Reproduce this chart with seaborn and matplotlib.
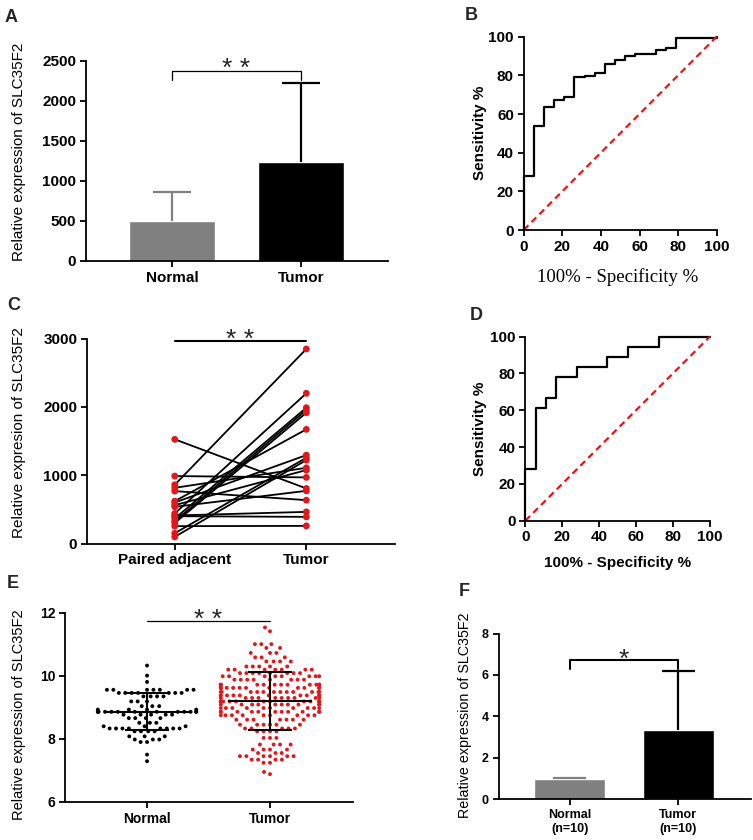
import numpy as np
import pandas as pd
import matplotlib
matplotlib.use("Agg")
import matplotlib.pyplot as plt
import seaborn as sns

# ---------------- data ----------------
# A: SLC35F2 expression, mean with SD (upper bar end)
a_groups = ["Normal", "Tumor"]
a_mean = [495, 1235]
a_sd_top = [862, 2225]

# B: ROC curve (100% - specificity, sensitivity)
b_fpr = [0, 0, 5.26, 10.53, 15.79, 21.05, 26.32, 31.58, 36.84, 42.11, 47.37,
         52.63, 57.89, 68.42, 73.68, 78.95, 100]
b_tpr = [0, 28, 54, 63.5, 67.5, 69, 79, 79.5, 81, 86, 88,
         90, 91, 93, 94, 99.5, 100]

# C: paired samples (adjacent vs tumor)
c_adjacent = [1525, 860, 987, 815, 767, 600, 561, 537, 440, 400, 366, 327,
              254, 97, 410, 300, 620, 150]
c_tumor = [806, 2848, 968, 1108, 635, 1294, 1075, 771, 2199, 390, 1988, 1954,
           258, 1221, 463, 1915, 1671, 1255]
c_ticks = ["Paired adjacent", "Tumor"]

# D: ROC curve
d_fpr = [0, 0, 5.56, 11.11, 16.67, 27.78, 44.44, 55.56, 72.22, 100]
d_tpr = [0, 27.8, 61.1, 66.7, 77.8, 83.3, 88.9, 94.4, 100, 100]

diag = [0, 100]

# E: scatter dot plot, values read row by row (value level, number of dots)
e_normal_levels = [10.33, 10.01, 9.81, 9.56, 9.46, 9.35, 9.19, 9.04, 8.93, 8.86, 8.77,
                   8.66, 8.51, 8.40, 8.33, 8.24, 8.08, 7.98, 7.90, 7.50, 7.29]
e_normal_counts = [1, 1, 1, 7, 7, 4, 3, 3, 4, 13, 5,
                   4, 3, 3, 8, 4, 3, 3, 2, 1, 1]
e_tumor_levels = [11.54, 11.42, 11.01, 10.89, 10.73, 10.59, 10.46, 10.30, 10.20, 10.09,
                  9.99, 9.88, 9.72, 9.62, 9.49, 9.38, 9.30, 9.19, 9.09, 8.98, 8.86,
                  8.75, 8.61, 8.45, 8.33, 8.24, 8.03, 7.82, 7.66, 7.55, 7.45, 7.34,
                  7.24, 6.95, 6.88]
e_tumor_counts = [1, 1, 3, 2, 3, 3, 4, 5, 7, 8,
                  8, 8, 14, 12, 12, 10, 10, 14, 10, 10, 11,
                  9, 7, 6, 5, 4, 3, 4, 4, 3, 6, 4,
                  2, 1, 1]
e_mean = [8.85, 9.20]
e_sd_low = [8.27, 8.28]
e_sd_high = [9.45, 10.12]

# F: qPCR, mean with SD
f_groups = ["Normal\n(n=10)", "Tumor\n(n=10)"]
f_mean = [1.0, 3.35]
f_sd_top = [1.05, 6.18]

RED = "#e3161c"
GRAY = "#808080"

# ---------------- figure ----------------
sns.set_theme(style="ticks")
plt.rcParams["font.family"] = ["Liberation Sans", "DejaVu Sans"]

W, H = 753, 840
fig = plt.figure(figsize=(W / 100, H / 100), dpi=100)


def add_ax(left, top, right, bottom):
    # pixel box (top-left origin) -> figure fraction
    return fig.add_axes([left / W, 1 - bottom / H, (right - left) / W, (bottom - top) / H])


def style(ax, size=11, lw=1.3):
    sns.despine(ax=ax)
    for s in ["left", "bottom"]:
        ax.spines[s].set_linewidth(lw)
        ax.spines[s].set_color("black")
    ax.tick_params(direction="out", length=4, width=lw, color="black",
                   labelsize=size, pad=3, labelcolor="black")
    for lab in ax.get_xticklabels() + ax.get_yticklabels():
        lab.set_fontweight("bold")


def ylab(ax, text, x, y, size=11, weight="normal"):
    ax.set_ylabel(text, fontsize=size, fontweight=weight, color="black")
    ax.yaxis.set_label_coords(x, y)
    ax.yaxis.label.set_verticalalignment("center")


def stars(ax, x, y, text, size=19):
    ax.annotate(text, xy=(x, y), xytext=(0, -6), textcoords="offset points",
                ha="center", va="center", fontsize=size, annotation_clip=False)


def sd_bars(ax, means, tops, colors, cap):
    # upper-only SD whiskers, GraphPad style
    for i, (m, t, c) in enumerate(zip(means, tops, colors)):
        ax.vlines(i, m, t, color=c, lw=1.6, zorder=3)
        ax.hlines(t, i - cap, i + cap, color=c, lw=1.6, zorder=3)


def letter(x, y, text):
    fig.text(x / W, 1 - y / H, text, fontsize=13, fontweight="bold", va="center", ha="left")


# ---- A ----
ax = add_ax(86, 61, 388, 261)
sns.barplot(x=a_groups, y=a_mean, hue=a_groups, palette=[GRAY, "black"], width=0.667,
            saturation=1, legend=False, errorbar=None, ax=ax)
sd_bars(ax, a_mean, a_sd_top, [GRAY, "black"], 0.15)
ax.set_ylim(0, 2500)
ax.set_yticks([0, 500, 1000, 1500, 2000, 2500])
ax.set_xlim(-0.667, 1.674)
ax.set_xlabel("")
ax.plot([0, 0, 1, 1], [2265, 2380, 2380, 2265], color="black", lw=0.9, clip_on=False)
stars(ax, 0.5, 2500, "* *")
ylab(ax, "Relative expression of SLC35F2", -0.222, 0.545)
style(ax)
letter(5, 17, "A")

# ---- B ----
ax = add_ax(523.7, 36.7, 716.7, 230)
roc_b = pd.DataFrame({"fpr": b_fpr, "tpr": b_tpr})
sns.lineplot(data=roc_b, x="fpr", y="tpr", estimator=None, sort=False, drawstyle="steps-post",
             color="black", lw=1.6, clip_on=False, ax=ax)
ax.plot(diag, diag, color=RED, lw=1.6, linestyle=(0, (3, 2)), clip_on=False)
ax.set_xlim(0, 100)
ax.set_ylim(0, 100)
ax.set_xticks(range(0, 101, 20))
ax.set_yticks(range(0, 101, 20))
ylab(ax, "Sensitivity %", -0.226, 0.502, weight="bold")
ax.set_xlabel("100% - Specificity %", fontsize=13.5, family=["Liberation Serif", "DejaVu Serif"],
              color="black")
ax.xaxis.set_label_coords(0.489, -0.243)
ax.xaxis.label.set_verticalalignment("center")
style(ax)
letter(465, 16, "B")

# ---- C ----
ax = add_ax(87, 338.6, 395, 543.5)
c_df = pd.DataFrame({
    "pair": list(range(len(c_adjacent))) * 2,
    "pos": [0] * len(c_adjacent) + [1] * len(c_tumor),
    "value": c_adjacent + c_tumor,
})
sns.lineplot(data=c_df, x="pos", y="value", units="pair", estimator=None, color="black",
             lw=1.3, ax=ax)
sns.scatterplot(data=c_df, x="pos", y="value", color=RED, s=24, edgecolor="none",
                zorder=3, clip_on=False, ax=ax)
ax.set_xticks([0, 1])
ax.set_xticklabels(c_ticks)
ax.set_xlim(-0.667, 1.674)
ax.set_ylim(0, 3000)
ax.set_yticks([0, 1000, 2000, 3000])
ax.set_xlabel("")
ax.plot([0, 1], [2970, 2970], color="black", lw=1.5, clip_on=False)
stars(ax, 0.5, 3105, "* *")
ylab(ax, "Relative expresion of SLC35F2", -0.221, 0.54)
style(ax)
letter(7, 305, "C")

# ---- D ----
ax = add_ax(525.3, 336.5, 710, 520.7)
roc_d = pd.DataFrame({"fpr": d_fpr, "tpr": d_tpr})
sns.lineplot(data=roc_d, x="fpr", y="tpr", estimator=None, sort=False, drawstyle="steps-post",
             color="black", lw=1.6, clip_on=False, ax=ax)
ax.plot(diag, diag, color=RED, lw=1.6, linestyle=(0, (3, 2)), clip_on=False)
ax.set_xlim(0, 100)
ax.set_ylim(0, 100)
ax.set_xticks(range(0, 101, 20))
ax.set_yticks(range(0, 101, 20))
ylab(ax, "Sensitivity %", -0.245, 0.498, weight="bold")
ax.set_xlabel("100% - Specificity %", fontsize=11, fontweight="bold", color="black")
ax.xaxis.set_label_coords(0.502, -0.23)
ax.xaxis.label.set_verticalalignment("center")
style(ax)
letter(470, 316, "D")

# ---- E ----
ax = add_ax(65, 613, 353, 801.8)
normal_vals = np.repeat(e_normal_levels, e_normal_counts)
tumor_vals = np.repeat(e_tumor_levels, e_tumor_counts)
e_df = pd.DataFrame({
    "group": ["Normal"] * len(normal_vals) + ["Tumor"] * len(tumor_vals),
    "value": np.concatenate([normal_vals, tumor_vals]),
})
sns.swarmplot(data=e_df, x="group", y="value", hue="group", palette=["black", RED],
              size=2.8, linewidth=1.6, edgecolor="none", legend=False, ax=ax)
for i in range(2):
    ax.hlines(e_mean[i], i - 0.34, i + 0.34, color="black", lw=1.5, zorder=5)
    ax.vlines(i, e_sd_low[i], e_sd_high[i], color="black", lw=1.5, zorder=5)
    ax.hlines([e_sd_low[i], e_sd_high[i]], i - 0.18, i + 0.18, color="black", lw=1.5, zorder=5)
ax.set_xlim(-0.667, 1.675)
ax.set_ylim(6, 12)
ax.set_yticks([6, 8, 10, 12])
ax.set_xlabel("")
ax.plot([0, 1], [11.74, 11.74], color="black", lw=0.9, clip_on=False)
stars(ax, 0.5, 12.04, "* *")
ylab(ax, "Relative expression of SLC35F2", -0.16, 0.46, size=10.5)
style(ax, size=10)
letter(7, 584, "E")

# ---- F ----
ax = add_ax(498.6, 633.5, 751, 799.3)
sns.barplot(x=f_groups, y=f_mean, hue=f_groups, palette=[GRAY, "black"], width=0.655,
            saturation=1, legend=False, errorbar=None, ax=ax)
sd_bars(ax, f_mean, f_sd_top, [GRAY, "black"], 0.15)
ax.set_ylim(0, 8)
ax.set_yticks([0, 2, 4, 6, 8])
ax.set_xlim(-0.655, 1.67)
ax.set_xlabel("")
ax.plot([0, 0, 1, 1], [6.3, 6.7, 6.7, 6.3], color="black", lw=1.5, clip_on=False)
stars(ax, 0.5, 7.13, "*")
ylab(ax, "Relative expression of SLC35F2", -0.134, 0.506, size=10.3)
style(ax, size=9)
letter(459, 591, "F")

fig.savefig("out.png", dpi=100)
